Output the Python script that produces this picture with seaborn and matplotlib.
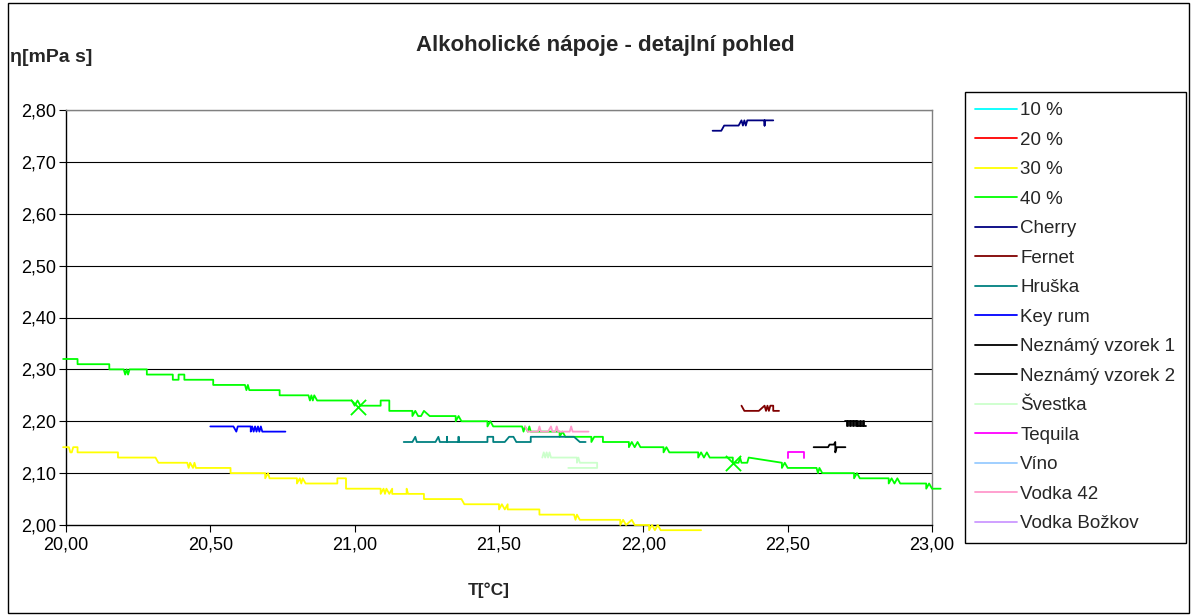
import numpy as np
import pandas as pd
import seaborn as sns
import matplotlib
matplotlib.use("Agg")
import matplotlib.pyplot as plt
from matplotlib.lines import Line2D
from matplotlib.patches import Rectangle
from matplotlib.ticker import FuncFormatter

# ---------------- data ----------------
series_names = ["10 %", "20 %", "30 %", "40 %", "Cherry", "Fernet", "Hruška", "Key rum",
                "Neznámý vzorek 1", "Neznámý vzorek 2", "Švestka", "Tequila", "Víno",
                "Vodka 42", "Vodka Božkov"]
series_colors = ["#00FFFF", "#FF0000", "#FFFF00", "#00FF00", "#000080", "#800000", "#008080",
                 "#0000FF", "#000000", "#000000", "#CCFFCC", "#FF00FF", "#99CCFF",
                 "#FF99CC", "#CC99FF"]

t40 = [19.99, 20.04, 20.04, 20.15, 20.15, 20.20, 20.205, 20.21, 20.215, 20.22, 20.28, 20.28,
       20.37, 20.37, 20.39, 20.39, 20.41, 20.41, 20.51, 20.51, 20.62, 20.625, 20.63, 20.635,
       20.74, 20.74, 20.84, 20.845, 20.85, 20.855, 20.86, 20.87, 20.99, 21.00, 21.01, 21.02,
       21.09, 21.09, 21.12, 21.12, 21.20, 21.20, 21.21, 21.22, 21.23, 21.24, 21.26, 21.35,
       21.35, 21.36, 21.37, 21.46, 21.46, 21.47, 21.48, 21.58, 21.585, 21.59, 21.60, 21.605,
       21.61, 21.71, 21.71, 21.72, 21.73, 21.82, 21.82, 21.83, 21.86, 21.86, 21.95, 21.95,
       21.96, 21.97, 21.98, 21.99, 22.07, 22.07, 22.08, 22.09, 22.19, 22.19, 22.20, 22.21,
       22.22, 22.23, 22.31, 22.31, 22.33, 22.335, 22.34, 22.36, 22.365, 22.48, 22.48, 22.49,
       22.50, 22.60, 22.605, 22.61, 22.62, 22.73, 22.73, 22.74, 22.75, 22.85, 22.85, 22.86,
       22.87, 22.88, 22.89, 22.98, 22.98, 22.99, 23.00, 23.03]
e40 = [2.32, 2.32, 2.31, 2.31, 2.30, 2.30, 2.29, 2.30, 2.29, 2.30, 2.30, 2.29,
       2.29, 2.28, 2.28, 2.29, 2.29, 2.28, 2.28, 2.27, 2.27, 2.26, 2.27, 2.26,
       2.26, 2.25, 2.25, 2.24, 2.25, 2.24, 2.25, 2.24, 2.24, 2.23, 2.24, 2.23,
       2.23, 2.24, 2.24, 2.22, 2.22, 2.21, 2.22, 2.21, 2.21, 2.22, 2.21, 2.21,
       2.20, 2.21, 2.20, 2.20, 2.19, 2.20, 2.19, 2.19, 2.18, 2.19, 2.18, 2.19,
       2.18, 2.18, 2.17, 2.18, 2.17, 2.17, 2.16, 2.17, 2.17, 2.16, 2.16, 2.15,
       2.16, 2.15, 2.16, 2.15, 2.15, 2.14, 2.15, 2.14, 2.14, 2.13, 2.14, 2.13,
       2.14, 2.13, 2.13, 2.12, 2.12, 2.13, 2.12, 2.12, 2.13, 2.12, 2.11, 2.12,
       2.11, 2.11, 2.10, 2.11, 2.10, 2.10, 2.09, 2.10, 2.09, 2.09, 2.08, 2.09,
       2.08, 2.09, 2.08, 2.08, 2.07, 2.08, 2.07, 2.07]

t30 = [19.99, 20.01, 20.015, 20.02, 20.025, 20.04, 20.04, 20.18, 20.18, 20.31, 20.32, 20.42,
       20.425, 20.43, 20.44, 20.445, 20.45, 20.57, 20.57, 20.69, 20.69, 20.70, 20.705, 20.80,
       20.80, 20.81, 20.815, 20.82, 20.83, 20.94, 20.94, 20.97, 20.97, 21.09, 21.09, 21.10,
       21.105, 21.11, 21.12, 21.13, 21.13, 21.18, 21.18, 21.185, 21.24, 21.24, 21.37, 21.38,
       21.50, 21.50, 21.51, 21.52, 21.53, 21.53, 21.64, 21.64, 21.76, 21.765, 21.77, 21.78,
       21.92, 21.92, 21.93, 21.94, 21.96, 21.97, 22.02, 22.02, 22.03, 22.04, 22.05, 22.06,
       22.07, 22.20]
e30 = [2.15, 2.15, 2.14, 2.14, 2.15, 2.15, 2.14, 2.14, 2.13, 2.13, 2.12, 2.12,
       2.11, 2.12, 2.11, 2.12, 2.11, 2.11, 2.10, 2.10, 2.09, 2.10, 2.09, 2.09,
       2.08, 2.09, 2.08, 2.09, 2.08, 2.08, 2.09, 2.09, 2.07, 2.07, 2.06, 2.07,
       2.06, 2.07, 2.06, 2.07, 2.06, 2.06, 2.07, 2.06, 2.06, 2.05, 2.05, 2.04,
       2.04, 2.03, 2.04, 2.03, 2.04, 2.03, 2.03, 2.02, 2.02, 2.01, 2.02, 2.01,
       2.01, 2.00, 2.01, 2.00, 2.01, 2.00, 2.00, 1.99, 2.00, 1.99, 2.00, 1.99,
       1.99, 1.99]

t_cherry = [22.24, 22.27, 22.28, 22.33, 22.34, 22.345, 22.35, 22.355, 22.36, 22.42, 22.42, 22.42, 22.45]
e_cherry = [2.76, 2.76, 2.77, 2.77, 2.78, 2.77, 2.78, 2.77, 2.78, 2.78, 2.77, 2.78, 2.78]

t_fernet = [22.34, 22.35, 22.40, 22.42, 22.425, 22.43, 22.435, 22.44, 22.45, 22.45, 22.47]
e_fernet = [2.23, 2.22, 2.22, 2.23, 2.22, 2.23, 2.22, 2.23, 2.23, 2.22, 2.22]

t_hruska = [21.17, 21.20, 21.21, 21.215, 21.28, 21.29, 21.295, 21.32, 21.32, 21.32, 21.36, 21.36,
            21.36, 21.46, 21.46, 21.48, 21.48, 21.52, 21.535, 21.55, 21.56, 21.61, 21.61, 21.76,
            21.78, 21.80]
e_hruska = [2.16, 2.16, 2.17, 2.16, 2.16, 2.17, 2.16, 2.16, 2.17, 2.16, 2.16, 2.17,
            2.16, 2.16, 2.17, 2.17, 2.16, 2.16, 2.17, 2.17, 2.16, 2.16, 2.17, 2.17,
            2.16, 2.16]

t_keyrum = [20.50, 20.58, 20.59, 20.595, 20.64, 20.64, 20.645, 20.65, 20.655, 20.66, 20.665,
            20.67, 20.675, 20.68, 20.76]
e_keyrum = [2.19, 2.19, 2.18, 2.19, 2.19, 2.18, 2.19, 2.18, 2.19, 2.18, 2.19,
            2.18, 2.19, 2.18, 2.18]

t_nez1 = [22.70, 22.705, 22.705, 22.71, 22.71, 22.715, 22.715, 22.72, 22.72, 22.725, 22.725,
          22.73, 22.73, 22.735, 22.735, 22.74, 22.74, 22.745, 22.745, 22.75, 22.75, 22.755,
          22.755, 22.76, 22.76, 22.765, 22.765, 22.77]
e_nez1 = [2.20, 2.20, 2.19, 2.19, 2.20, 2.20, 2.19, 2.19, 2.20, 2.20, 2.19,
          2.19, 2.20, 2.20, 2.19, 2.19, 2.20, 2.20, 2.19, 2.19, 2.20, 2.20,
          2.19, 2.19, 2.20, 2.20, 2.19, 2.19]

t_nez2 = [22.59, 22.64, 22.645, 22.66, 22.665, 22.665, 22.67, 22.70]
e_nez2 = [2.15, 2.15, 2.155, 2.155, 2.16, 2.14, 2.15, 2.15]

t_svestka = [21.65, 21.655, 21.66, 21.665, 21.67, 21.675, 21.68, 21.77, 21.77, 21.775, 21.78,
             21.84, 21.84, 21.74]
e_svestka = [2.13, 2.14, 2.13, 2.14, 2.13, 2.14, 2.13, 2.13, 2.12, 2.13, 2.12,
             2.12, 2.11, 2.11]

t_tequila = [22.50, 22.50, 22.555, 22.555]
e_tequila = [2.13, 2.14, 2.14, 2.13]

t_vodka42 = [21.59, 21.60, 21.635, 21.64, 21.645, 21.67, 21.68, 21.685, 21.695, 21.70, 21.705,
             21.745, 21.75, 21.755, 21.81]
e_vodka42 = [2.19, 2.18, 2.18, 2.19, 2.18, 2.18, 2.19, 2.18, 2.18, 2.19, 2.18,
             2.18, 2.19, 2.18, 2.18]

marker_t = [21.01, 22.31]
marker_eta = [2.228, 2.12]

x_ticks = [20.0, 20.5, 21.0, 21.5, 22.0, 22.5, 23.0]
y_ticks = [2.0, 2.1, 2.2, 2.3, 2.4, 2.5, 2.6, 2.7, 2.8]

# ---------------- build table ----------------
visible = {
    "30 %": (t30, e30), "40 %": (t40, e40), "Cherry": (t_cherry, e_cherry),
    "Fernet": (t_fernet, e_fernet), "Hruška": (t_hruska, e_hruska),
    "Key rum": (t_keyrum, e_keyrum), "Neznámý vzorek 1": (t_nez1, e_nez1),
    "Neznámý vzorek 2": (t_nez2, e_nez2), "Švestka": (t_svestka, e_svestka),
    "Tequila": (t_tequila, e_tequila), "Vodka 42": (t_vodka42, e_vodka42),
}
frames = [pd.DataFrame({"T": t, "eta": e, "series": name})
          for name, (t, e) in visible.items()]
df = pd.concat(frames, ignore_index=True)
palette = dict(zip(series_names, series_colors))

# ---------------- figure ----------------
sns.set_theme(style="white")
plt.rcParams["font.family"] = ["Liberation Sans", "DejaVu Sans"]

W, H = 1192, 615
fig = plt.figure(figsize=(W / 100, H / 100), dpi=100)
L, R, T_, B = 66, 932, 110, 525
ax = fig.add_axes([L / W, 1 - B / H, (R - L) / W, (B - T_) / H])

for y in y_ticks[1:]:
    ax.axhline(y, color="black", lw=0.8, zorder=0)

sns.lineplot(data=df, x="T", y="eta", hue="series", palette=palette, sort=False,
             estimator=None, units="series", legend=False, lw=1.3, ax=ax, clip_on=False,
             zorder=3)
sns.scatterplot(x=marker_t, y=marker_eta, marker="x", color="#00FF00", s=120,
                linewidth=1.3, ax=ax, zorder=4, clip_on=False)

ax.set_xlim(20.0, 23.0)
ax.set_ylim(2.0, 2.8)
ax.set_xticks(x_ticks)
ax.set_yticks(y_ticks)
fmt = FuncFormatter(lambda v, p: f"{v:.2f}".replace(".", ","))
ax.xaxis.set_major_formatter(fmt)
ax.yaxis.set_major_formatter(fmt)
ax.tick_params(axis="both", which="major", direction="out", length=5, width=0.8,
               color="black", labelsize=13, labelcolor="black", left=True, bottom=True)
ax.tick_params(axis="x", pad=3)
ax.tick_params(axis="y", pad=2)
ax.set_xlabel("")
ax.set_ylabel("")
for side in ["left", "bottom"]:
    ax.spines[side].set_color("black")
    ax.spines[side].set_linewidth(1.0)
for side in ["top", "right"]:
    ax.spines[side].set_color("#808080")
    ax.spines[side].set_linewidth(1.0)

fig.text(605 / W, 1 - 45 / H, "Alkoholické nápoje - detajlní pohled", ha="center", va="center",
         fontsize=16, fontweight="bold")
fig.text(10 / W, 1 - 58 / H, "η[mPa s]", ha="left", va="center", fontsize=14, fontweight="bold")
fig.text(489 / W, 1 - 590 / H, "T[°C]", ha="center", va="center", fontsize=12.5, fontweight="bold")

handles = [Line2D([], [], color=c, lw=1.3) for c in series_colors]
leg = fig.legend(handles, series_names, loc="upper left", bbox_to_anchor=(965 / W, 1 - 92 / H),
                 frameon=True, fancybox=False, framealpha=1, edgecolor="black", fontsize=13.5,
                 handlelength=2.2, handletextpad=0.2, labelspacing=0.66, borderpad=0.55,
                 borderaxespad=0)
leg.get_frame().set_linewidth(1.0)

fig.patches.append(Rectangle((8 / W, 2 / H), (1189 - 8) / W, (612 - 2) / H, fill=False,
                             edgecolor="black", lw=1.0, transform=fig.transFigure))

fig.savefig("out.png", dpi=100)
